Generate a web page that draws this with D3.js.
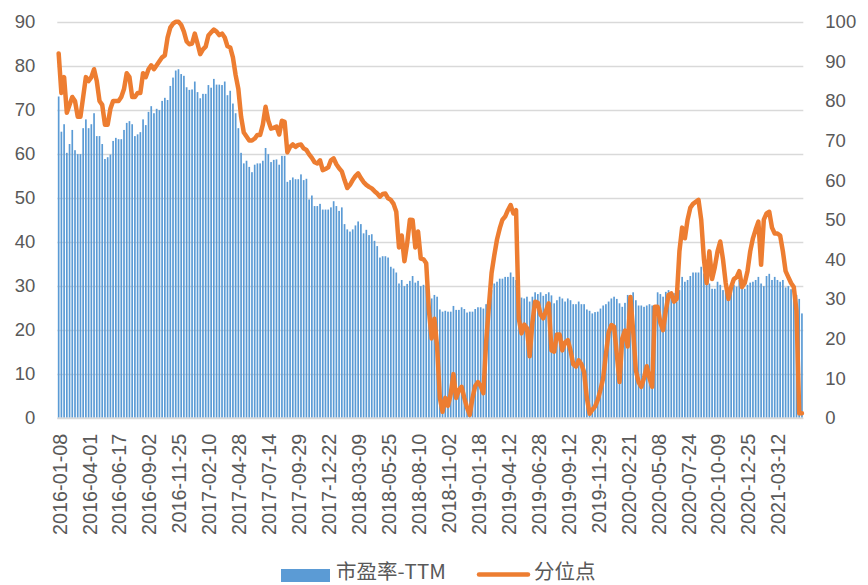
<!DOCTYPE html>
<html><head><meta charset="utf-8">
<script src="https://cdn.jsdelivr.net/npm/d3@7"></script>
<style>body{margin:0;background:#fff}svg{display:block}</style>
</head><body>
<svg id="c" width="868" height="585"></svg>
<script>
// ---- data ----
const tickLabels = ["2016-01-08","2016-04-01","2016-06-17","2016-09-02","2016-11-25","2017-02-10","2017-04-28","2017-07-14","2017-09-29","2017-12-22","2018-03-09","2018-05-25","2018-08-10","2018-11-02","2019-01-18","2019-04-12","2019-06-28","2019-09-12","2019-11-29","2020-02-21","2020-05-08","2020-07-24","2020-10-09","2020-12-25","2021-03-12"];
const tickStep = 11;
const leftTicks = [0,10,20,30,40,50,60,70,80,90];
const rightTicks = [0,10,20,30,40,50,60,70,80,90,100];
const seriesNames = ["市盈率-TTM","分位点"];
const peTTM = [
73.0,65.0,66.7,60.2,62.2,65.4,60.8,59.9,59.9,65.8,67.8,65.8,66.7,69.2,64.0,64.0,62.2,58.8,59.2,59.8,
62.9,63.6,63.3,63.3,65.4,67.0,67.4,66.7,64.0,64.4,64.9,67.8,66.5,69.5,70.8,69.2,70.2,69.9,72.0,72.7,
72.2,75.4,77.3,78.9,79.2,78.1,77.7,75.1,74.5,74.6,76.4,74.0,72.6,73.6,73.6,75.6,75.0,77.0,75.7,75.7,
75.6,76.4,73.3,74.3,71.4,69.2,65.8,60.2,57.8,58.4,57.0,55.8,57.5,57.8,57.8,58.4,61.3,59.9,58.1,58.6,
58.7,57.5,59.5,59.5,53.6,54.0,54.6,54.2,54.2,55.3,54.0,54.3,49.6,50.5,48.1,48.1,48.6,47.3,47.3,47.3,
47.8,49.2,48.1,47.0,47.8,44.0,42.8,42.3,42.8,43.7,44.6,44.0,41.9,42.7,41.5,41.7,40.2,39.0,36.4,36.7,
36.7,36.4,34.3,33.9,33.0,30.5,31.3,29.9,30.4,31.1,32.2,30.7,31.1,29.9,30.2,29.9,28.5,27.1,27.9,27.5,
24.6,24.1,24.3,24.1,24.1,25.4,24.5,24.5,25.1,24.7,23.9,24.1,24.1,24.7,25.1,25.1,24.8,25.8,27.0,29.0,
30.5,30.9,31.6,31.6,32.0,32.0,33.0,32.0,31.3,28.3,27.3,27.1,27.5,26.4,27.5,28.5,28.1,28.5,27.7,28.1,
28.5,27.8,26.0,26.7,27.5,27.1,26.4,27.1,26.7,25.8,25.8,26.4,25.8,25.8,24.6,24.3,23.7,24.0,24.1,24.8,
25.5,25.8,26.4,27.1,27.5,27.0,26.0,25.2,26.1,27.9,27.5,28.5,26.7,25.5,25.5,25.2,25.5,25.8,25.5,25.6,
28.5,28.1,27.5,28.6,29.0,28.6,28.3,26.4,29.0,32.0,30.9,31.3,32.2,33.0,33.0,33.0,34.3,32.8,30.2,30.5,
29.3,29.3,30.9,30.2,29.0,29.0,28.6,29.0,30.2,29.8,31.3,29.3,29.3,30.2,30.7,30.9,31.3,32.0,30.5,29.9,
32.2,32.7,31.3,32.0,31.3,30.9,31.3,29.6,29.9,29.2,29.0,27.9,27.0,23.7
];
const percentile = [
92,82,86,77,79,81,80,76,76,81,86,85,86,88,85,80,79,74,74,78,
80,80,80,81,83,87,86,81,81,82,82,87,86,88,89,88,89,90,91,91.5,
96,98.5,99.5,100,100,99.2,97.5,95,94.3,94.5,97,94.5,91.8,93,93.7,96.5,97.3,98,97.5,96.6,
97,96,93.8,93.5,91,86.5,83,76,72,71,70,70,70.5,71.4,71.4,74,78.5,75,73,73.2,
73.5,71.5,75,74.7,67,68.4,69,68.4,68.9,69,68,67.6,66.5,65.6,64.5,64.2,65,62.5,62.8,63.2,
65,65.5,64,63,62.2,60,58,58.8,60,61,61.7,60.5,59.5,58.8,58.3,57.9,57.2,56.6,55.8,56.5,
56.6,55.4,55,54,52,43,46,39.5,44,50,49.9,43,47,40.2,40,39,27,20,25,18,
5,1.5,5,3,6,11,5,7,7.8,5,2.5,0.7,5,8,9,8,6.2,19,28,36.5,
41,45,47.8,50,50.8,52.4,53.7,51.6,52.4,25,21.3,23.5,22.6,15.5,24,29.3,29,26,25.1,27,
28.9,17,16.7,21,21,17,19,19.6,17,13.5,12.9,14.5,13.5,11.5,5,1,2,2.8,4.5,7,
10,16,21.5,23.4,23,16,9,20,22,18,30.5,22,12,9,7.8,10,13,10,7.8,28,
28,24,22.1,27,31,31.4,29.3,30,42,48,45.3,50,53,54,54.5,55,50,40,34,42,
35,38,42,44.5,40,34,30,33,35,35.5,37,33,34,37,42,45.3,47.5,49.5,38.6,50,
51.6,52,48,46.5,46.5,46,42,37,35.5,34,33,27,1.1,1.1
];

// ---- chart ----
const svg = d3.select("#c");
const L = 57.3, R = 803.3, T = 21.7, B = 417.7;
const idx = d3.range(peTTM.length);
const x = d3.scaleBand().domain(idx).range([L, R]).paddingInner(0.38).paddingOuter(0.19);
const yL = d3.scaleLinear().domain([0, 90]).range([B, T]);
const yR = d3.scaleLinear().domain([0, 100]).range([B, T]);
const numFont = "'Liberation Sans', Arial, sans-serif";
const txt = "#595959";

// gridlines
svg.append("g").selectAll("line").data(leftTicks).join("line")
  .attr("x1", L).attr("x2", R)
  .attr("y1", d => Math.round(yL(d)) + 0.5).attr("y2", d => Math.round(yL(d)) + 0.5)
  .attr("stroke", "#d9d9d9").attr("stroke-width", 1.3);

// bars
svg.append("g").selectAll("rect").data(peTTM).join("rect")
  .attr("x", (d, i) => x(i)).attr("width", x.bandwidth())
  .attr("y", d => yL(d)).attr("height", d => B - yL(d))
  .attr("fill", "#5b9bd5");

// baseline
svg.append("line").attr("x1", L).attr("x2", R).attr("y1", B + 0.5).attr("y2", B + 0.5)
  .attr("stroke", "#d9d9d9").attr("stroke-width", 1.3);

// line
const line = d3.line().x((d, i) => x(i) + x.bandwidth() / 2).y(d => yR(d));
svg.append("path").datum(percentile).attr("d", line)
  .attr("fill", "none").attr("stroke", "#ed7d31").attr("stroke-width", 4.5)
  .attr("stroke-linejoin", "round").attr("stroke-linecap", "round");

// left axis
const axL = d3.axisLeft(yL).tickValues(leftTicks).tickSize(0).tickPadding(0);
const gL = svg.append("g").attr("transform", `translate(${L - 22},0)`).call(axL);
gL.select(".domain").remove();
gL.selectAll("text").attr("font-family", numFont).attr("font-size", 18.5).attr("fill", txt);

// right axis
const axR = d3.axisRight(yR).tickValues(rightTicks).tickSize(0).tickPadding(0);
const gR = svg.append("g").attr("transform", `translate(${R + 22},0)`).call(axR);
gR.select(".domain").remove();
gR.selectAll("text").attr("font-family", numFont).attr("font-size", 18.5).attr("fill", txt);

// x axis
const xTicks = tickLabels.map((t, k) => k * tickStep);
const axX = d3.axisBottom(x).tickValues(xTicks).tickSize(0).tickFormat(i => tickLabels[i / tickStep]);
const gX = svg.append("g").attr("transform", `translate(1,${B + 16})`).call(axX);
gX.select(".domain").remove();
gX.selectAll("text").attr("font-family", numFont).attr("font-size", 19.8).attr("fill", txt)
  .attr("transform", "rotate(-90)").attr("text-anchor", "end").attr("x", 0).attr("y", 0).attr("dy", "0.35em");

// legend
const cjk = "'Noto Sans CJK SC', 'Liberation Sans', sans-serif";
const lg = svg.append("g");
lg.append("rect").attr("x", 281).attr("y", 569).attr("width", 49).attr("height", 13).attr("fill", "#5b9bd5");
lg.append("text").attr("x", 336).attr("y", 578.5).text(seriesNames[0])
  .attr("font-family", cjk).attr("font-size", 20.5).attr("fill", txt);
lg.append("line").attr("x1", 479).attr("x2", 528).attr("y1", 574.5).attr("y2", 574.5)
  .attr("stroke", "#ed7d31").attr("stroke-width", 4.5).attr("stroke-linecap", "round");
lg.append("text").attr("x", 534).attr("y", 578.5).text(seriesNames[1])
  .attr("font-family", cjk).attr("font-size", 20.5).attr("fill", txt);
</script>
</body></html>
